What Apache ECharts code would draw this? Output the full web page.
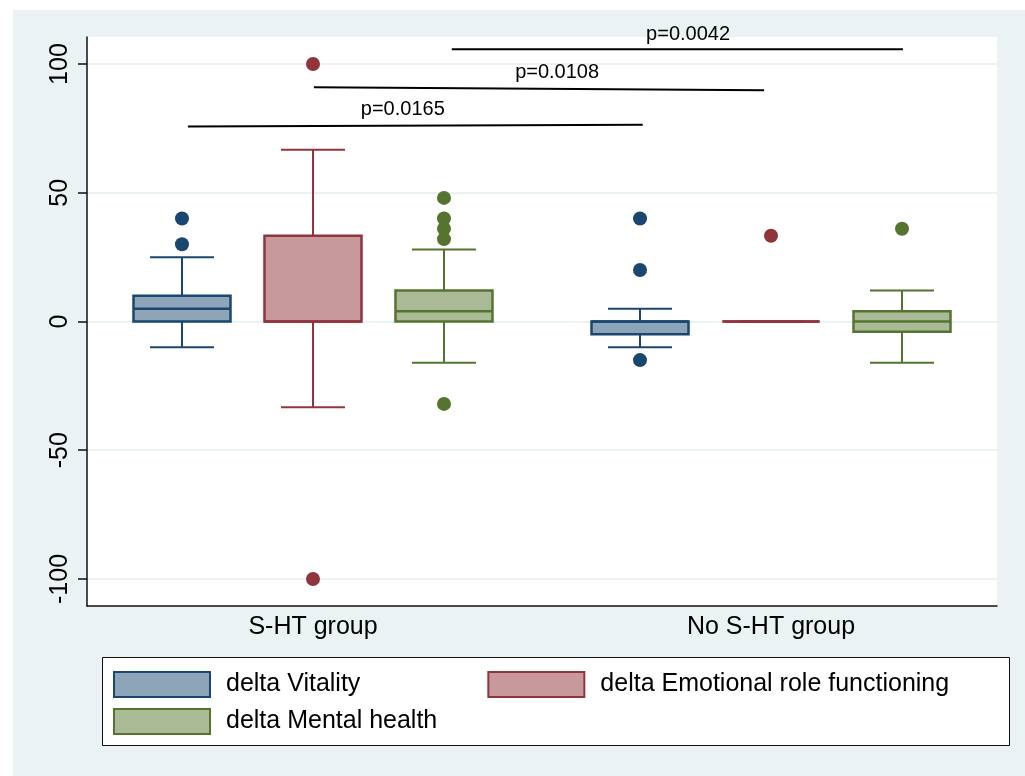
<!DOCTYPE html>
<html><head><meta charset="utf-8">
<script src="https://cdn.jsdelivr.net/npm/echarts@6/dist/echarts.min.js"></script>
<style>html,body{margin:0;padding:0;background:#fff}#c{width:1025px;height:776px}</style>
</head><body><div id="c"></div>
<script>
// ---- data ----
const categories = ['S-HT group', 'No S-HT group'];
const seriesNames = ['delta Vitality', 'delta Emotional role functioning', 'delta Mental health'];
// per group: [lower whisker, Q1, median, Q3, upper whisker]
const vitalityBox  = [[-10, 0, 5, 10, 25], [-10, -5, 0, 0, 5]];
const emotionalBox = [[-33.3, 0, 0, 33.3, 66.7], [0, 0, 0, 0, 0]];
const mentalBox    = [[-16, 0, 4, 12, 28], [-16, -4, 0, 4, 12]];
const vitalityOutliers  = [[30, 40], [40, 20, -15]];
const emotionalOutliers = [[100, -100], [33.3]];
const mentalOutliers    = [[48, 40, 36, 32, -32], [36]];
const yTicks = [-100, -50, 0, 50, 100];
const xTicks = [0, 1];
// significance annotations (x in group units: 0 = S-HT group, 1 = No S-HT group)
const pLabels = ['p=0.0165', 'p=0.0108', 'p=0.0042'];
const pStartX = [-0.273, 0.002, 0.303];
const pEndX   = [0.720, 0.985, 1.288];
const pLevelStart = [75.7, 91.0, 105.7];
const pLevelEnd   = [76.4, 89.8, 105.7];
const pLabelX = [0.196, 0.533, 0.819];

// ---- styles / layout ----
const FONT = "'Liberation Sans', Arial, Helvetica, sans-serif";
const lineColors = ['#1a476f', '#90353b', '#55752f'];
const fillColors = ['#8ea4b9', '#c8999c', '#aab996'];
const slotOffset = [-0.286, 0, 0.286];
const BOX_W = 97, CAP_W = 64;
const boxes = [vitalityBox, emotionalBox, mentalBox];
const outliers = [vitalityOutliers, emotionalOutliers, mentalOutliers];

const chart = echarts.init(document.getElementById('c'));

const series = [];
boxes.forEach((bx, k) => {
  series.push({
    type: 'custom', name: seriesNames[k], z: 3,
    data: bx.map((b, g) => [g + slotOffset[k]].concat(b)),
    encode: { x: 0, y: [1, 2, 3, 4, 5] },
    renderItem: (params, api) => {
      const x = api.value(0);
      const p = i => api.coord([x, api.value(i)]);
      const lo = p(1), q1 = p(2), md = p(3), q3 = p(4), hi = p(5);
      const cx = lo[0];
      const ws = { stroke: lineColors[k], lineWidth: 2 };
      return { type: 'group', children: [
        { type: 'line', shape: { x1: cx, y1: q3[1], x2: cx, y2: hi[1] }, style: ws },
        { type: 'line', shape: { x1: cx, y1: q1[1], x2: cx, y2: lo[1] }, style: ws },
        { type: 'line', shape: { x1: cx - CAP_W / 2, y1: hi[1], x2: cx + CAP_W / 2, y2: hi[1] }, style: ws },
        { type: 'line', shape: { x1: cx - CAP_W / 2, y1: lo[1], x2: cx + CAP_W / 2, y2: lo[1] }, style: ws },
        { type: 'rect', shape: { x: cx - BOX_W / 2, y: q3[1], width: BOX_W, height: q1[1] - q3[1] },
          style: { fill: fillColors[k], stroke: lineColors[k], lineWidth: 2.5 } },
        { type: 'line', shape: { x1: cx - BOX_W / 2, y1: md[1], x2: cx + BOX_W / 2, y2: md[1] },
          style: { stroke: lineColors[k], lineWidth: 2.5 } }
      ]};
    }
  });
  const pts = [];
  outliers[k].forEach((arr, g) => arr.forEach(v => pts.push([g + slotOffset[k], v])));
  series.push({
    type: 'scatter', name: seriesNames[k], data: pts, symbol: 'circle', symbolSize: 14, z: 4,
    itemStyle: { color: lineColors[k], opacity: 1 }, emphasis: { disabled: true }
  });
});

// significance bars
series.push({
  type: 'custom', name: 'pvals', z: 5, clip: false, silent: true,
  data: pLabels.map((l, i) => [pStartX[i], pLevelStart[i], pEndX[i], pLevelEnd[i], pLabelX[i]]),
  encode: { x: [0, 2], y: [1, 3] },
  renderItem: (params, api) => {
    const a = api.coord([api.value(0), api.value(1)]);
    const b = api.coord([api.value(2), api.value(3)]);
    const t = api.coord([api.value(4), Math.max(api.value(1), api.value(3))]);
    return { type: 'group', children: [
      { type: 'line', shape: { x1: a[0], y1: a[1], x2: b[0], y2: b[1] }, style: { stroke: '#000', lineWidth: 2 } },
      { type: 'text', x: t[0], y: t[1] - 5, style: { text: pLabels[params.dataIndex], fill: '#000',
        font: '20px ' + FONT, textAlign: 'center', verticalAlign: 'bottom' } }
    ]};
  }
});

const legendCommon = {
  orient: 'horizontal', itemWidth: 96, itemHeight: 25, padding: 0, selectedMode: false,
  textStyle: { fontSize: 25, color: '#000', fontFamily: FONT, padding: [0, 0, 0, 11] }
};
const legendItem = k => ({ name: seriesNames[k], icon: 'rect',
  itemStyle: { color: fillColors[k], borderColor: lineColors[k], borderWidth: 2 } });

chart.setOption({
  backgroundColor: '#eaf2f3',
  animation: false,
  textStyle: { fontFamily: FONT },
  grid: { left: 87, top: 37, right: 28, bottom: 170, show: true, backgroundColor: '#fff', borderWidth: 0 },
  xAxis: {
    type: 'value', min: -0.4934, max: 1.4934,
    axisLine: { show: true, onZero: false, lineStyle: { color: '#111', width: 1.5 } },
    axisTick: { show: false },
    splitLine: { show: false },
    axisLabel: { customValues: xTicks, formatter: v => categories[v] || '', fontSize: 25, color: '#000', margin: 9, fontFamily: FONT }
  },
  yAxis: {
    type: 'value', min: -110.5, max: 110.5,
    axisLine: { show: true, onZero: false, lineStyle: { color: '#111', width: 1.5 } },
    axisTick: { show: true, customValues: yTicks, length: 9, lineStyle: { color: '#111', width: 1.5 } },
    splitLine: { show: true, lineStyle: { color: '#eaf2f3', width: 2 } },
    axisLabel: { customValues: yTicks, rotate: 90, fontSize: 25, color: '#000', margin: 14, fontFamily: FONT }
  },
  legend: [
    Object.assign({ left: 113, top: 671, itemGap: 127, data: [legendItem(0), legendItem(1)] }, legendCommon),
    Object.assign({ left: 113, top: 708, itemGap: 10, data: [legendItem(2)] }, legendCommon)
  ],
  graphic: [
    { type: 'rect', left: 0, top: 0, shape: { width: 13, height: 776 }, style: { fill: '#fff' }, silent: true },
    { type: 'rect', left: 0, top: 0, shape: { width: 1025, height: 10 }, style: { fill: '#fff' }, silent: true },
    { type: 'rect', left: 102, top: 657, shape: { width: 907, height: 88 }, style: { fill: '#fff', stroke: '#111', lineWidth: 1 }, silent: true }
  ],
  series: series
});
</script></body></html>
